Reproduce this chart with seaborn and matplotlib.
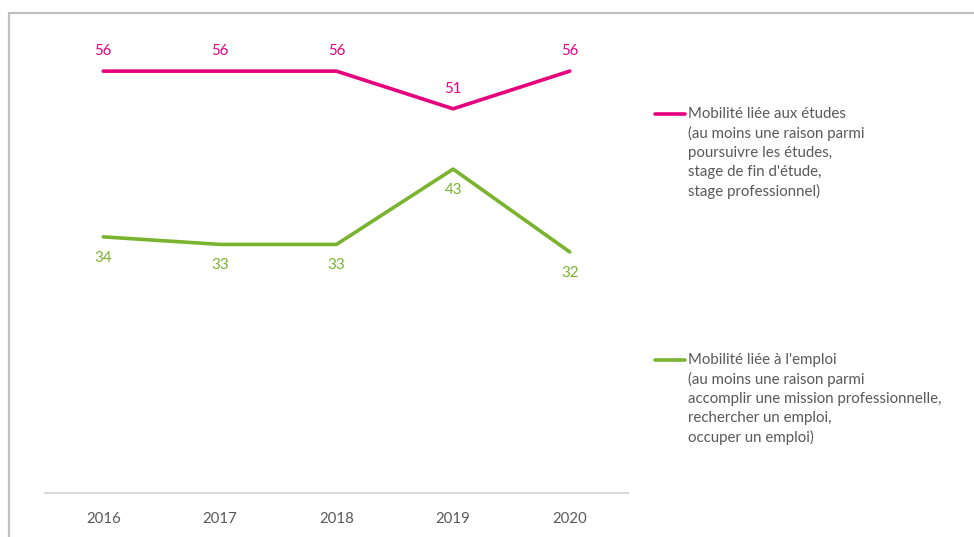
import matplotlib
matplotlib.use("Agg")
import matplotlib.pyplot as plt
import seaborn as sns
import pandas as pd
from matplotlib.lines import Line2D
from matplotlib.patches import Rectangle

years = ["2016", "2017", "2018", "2019", "2020"]
etudes = [56, 56, 56, 51, 56]
emploi = [34, 33, 33, 43, 32]
label_etudes = "Mobilité liée aux études\n(au moins une raison parmi\npoursuivre les études,\nstage de fin d'étude,\nstage professionnel)"
label_emploi = "Mobilité liée à l'emploi\n(au moins une raison parmi\naccomplir une mission professionnelle,\nrechercher un emploi,\noccuper un emploi)"

PINK = "#E6007E"
GREEN = "#7AB32E"
GREY = "#595959"

sns.set_theme(style="white")
plt.rcParams["font.family"] = ["Lato", "DejaVu Sans"]

df = pd.DataFrame({
    "year": years * 2,
    "value": etudes + emploi,
    "serie": ["etudes"] * len(years) + ["emploi"] * len(years),
})

W, H = 974, 537
fig = plt.figure(figsize=(W / 100, H / 100), dpi=100)
ax = fig.add_axes([45 / W, 1 - 493 / H, (628 - 45) / W, (493 - 41) / H])

sns.lineplot(data=df, x="year", y="value", hue="serie",
             palette={"etudes": PINK, "emploi": GREEN},
             linewidth=2.6, ax=ax, legend=False, sort=False)

ax.set_xlim(-0.5, len(years) - 0.5)
ax.set_ylim(0, 60)
ax.set_xlabel("")
ax.set_ylabel("")
ax.set_yticks([])
for s in ["top", "right", "left"]:
    ax.spines[s].set_visible(False)
ax.spines["bottom"].set_color("#D9D9D9")
ax.spines["bottom"].set_linewidth(1.5)
ax.tick_params(axis="x", length=0, pad=14, labelsize=10.8, labelcolor=GREY)

for i, v in enumerate(etudes):
    ax.annotate(str(v), (i, v), xytext=(0, 14.5), textcoords="offset points",
                ha="center", va="center", color=PINK, fontsize=10.8)
for i, v in enumerate(emploi):
    ax.annotate(str(v), (i, v), xytext=(0, -15), textcoords="offset points",
                ha="center", va="center", color=GREEN, fontsize=10.8)

# legend (manual)
def legend_entry(y_px, color, text):
    yf = 1 - y_px / H
    fig.add_artist(Line2D([655 / W, 685 / W], [yf, yf], color=color, lw=2.6,
                          transform=fig.transFigure))
    fig.text(688 / W, 1 - (y_px - 7) / H, text, ha="left", va="top",
             color=GREY, fontsize=10.8, linespacing=1.43)

legend_entry(114, PINK, label_etudes)
legend_entry(360, GREEN, label_emploi)

# outer frame (partly cropped)
fig.add_artist(Rectangle((8.5 / W, -0.1), 1.2, 1 - 12.5 / H + 0.1,
                         transform=fig.transFigure, fill=False,
                         edgecolor="#BFBFBF", lw=1.6))

fig.savefig("out.png", dpi=100)
